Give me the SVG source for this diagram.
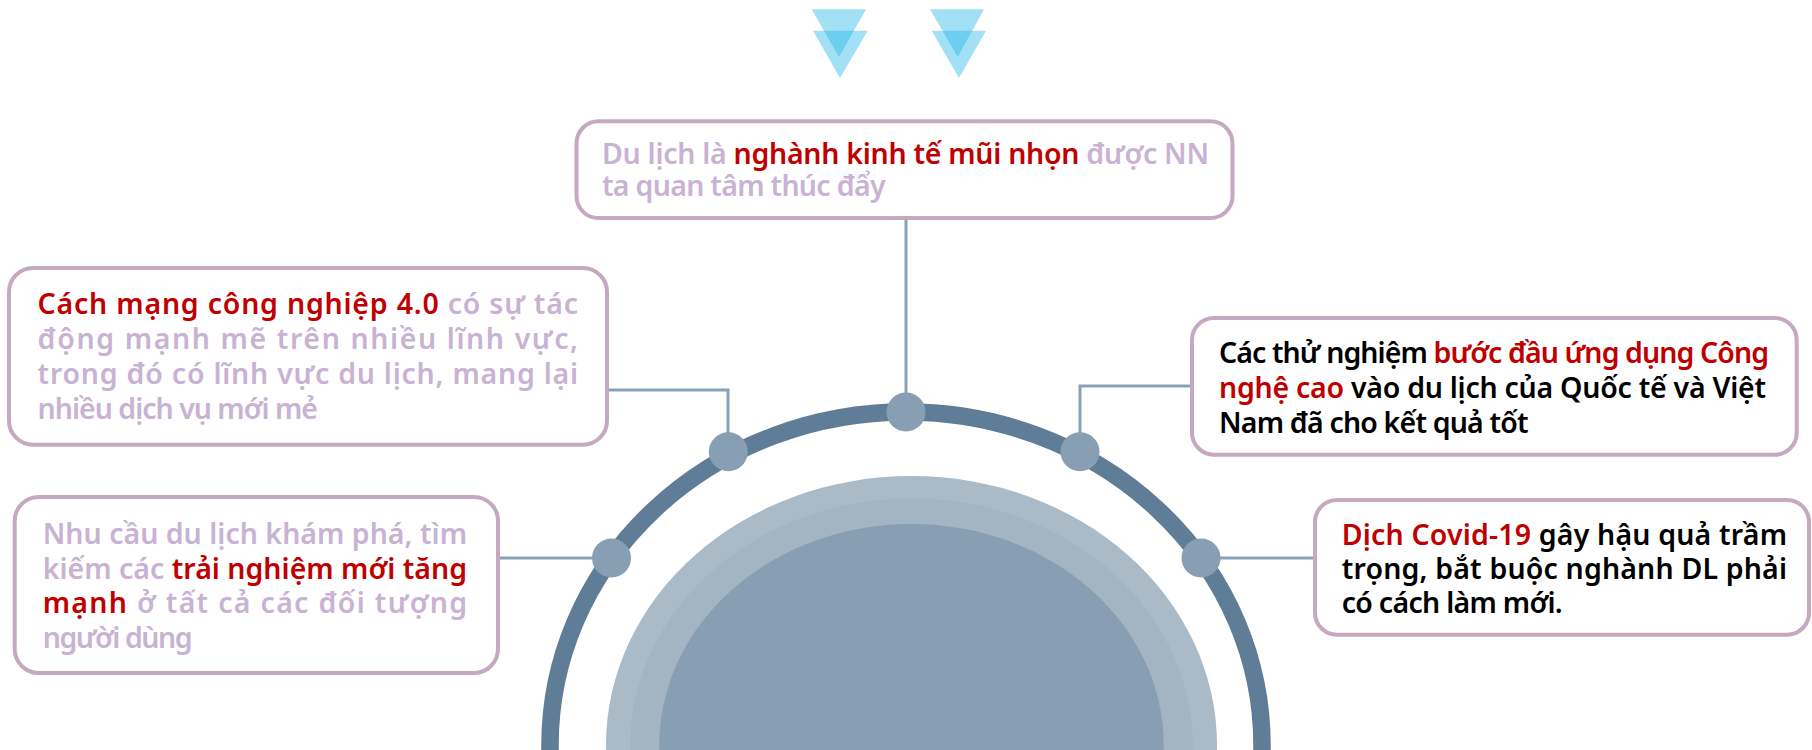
<svg xmlns="http://www.w3.org/2000/svg" width="1812" height="750" viewBox="0 0 1812 750">
<defs>
<style>
.box{fill:#ffffff;stroke:#c4a9c1;stroke-width:4}
.t{font-family:"Noto Sans","Liberation Sans",sans-serif;font-size:28.5px;font-weight:600}
.g{fill:#c8b3d3}
.r{fill:#c00000}
.k{fill:#000000}
.con{fill:none;stroke:#8aa2b6;stroke-width:3}
.node{fill:#889fb3}
.tri{fill:#2ebae9;fill-opacity:0.45}
</style>
</defs>
<rect width="1812" height="750" fill="#ffffff"/>

<g id="arrows">
<polygon class="tri" points="811.7,9.3 866,9.3 839,57"/>
<polygon class="tri" points="813,30.7 867.7,30.7 840,78"/>
<polygon class="tri" points="930,9.3 984,9.3 957.7,57"/>
<polygon class="tri" points="931.7,30.7 986,30.7 959,78"/>
</g>

<g id="hub">
<ellipse cx="911.5" cy="745" rx="305.5" ry="269" fill="#aabbc7"/>
<ellipse cx="911.5" cy="745" rx="281.2" ry="246.7" fill="#a3b4c3"/>
<ellipse cx="911.5" cy="745" rx="252.2" ry="221" fill="#889eb3"/>
<ellipse cx="906" cy="745" rx="356" ry="333" fill="none" stroke="#5f7d96" stroke-width="17.5"/>
</g>

<g id="connectors">
<path class="con" d="M906,220 V412"/>
<path class="con" d="M609,390 H728 V452"/>
<path class="con" d="M1192,386 H1080 V452"/>
<path class="con" d="M498,558 H611"/>
<path class="con" d="M1315,558 H1201"/>
</g>

<g id="node-dots">
<circle class="node" cx="906" cy="412" r="19.5"/>
<circle class="node" cx="728.3" cy="451.7" r="19.5"/>
<circle class="node" cx="1080" cy="451.7" r="19.5"/>
<circle class="node" cx="611.5" cy="558" r="19.5"/>
<circle class="node" cx="1201" cy="558" r="19.5"/>
</g>

<g id="node-top">
<rect class="box" x="576.5" y="121.3" width="656" height="96.7" rx="22"/>
<text class="t" x="602" y="164" textLength="607" lengthAdjust="spacing"><tspan class="g">Du lịch là </tspan><tspan class="r">nghành kinh tế mũi nhọn</tspan><tspan class="g"> được NN</tspan></text>
<text class="t g" x="602" y="196" textLength="283.6" lengthAdjust="spacing">ta quan tâm thúc đẩy</text>
</g>

<g id="node-left-1">
<rect class="box" x="9" y="268" width="598" height="176.7" rx="24"/>
<text class="t" x="37.6" y="314.3" textLength="540.4" lengthAdjust="spacing"><tspan class="r">Cách mạng công nghiệp 4.0</tspan><tspan class="g"> có sự tác</tspan></text>
<text class="t g" x="37.6" y="349.3" textLength="540.4" lengthAdjust="spacing">động mạnh mẽ trên nhiều lĩnh vực,</text>
<text class="t g" x="37.6" y="384.3" textLength="540.4" lengthAdjust="spacing">trong đó có lĩnh vực du lịch, mang lại</text>
<text class="t g" x="37.6" y="419.3" textLength="280.4" lengthAdjust="spacing">nhiều dịch vụ mới mẻ</text>
</g>

<g id="node-left-2">
<rect class="box" x="14.7" y="497" width="483.3" height="176" rx="24"/>
<text class="t g" x="42.7" y="544" textLength="424.3" lengthAdjust="spacing">Nhu cầu du lịch khám phá, tìm</text>
<text class="t" x="42.7" y="578.6" textLength="424.3" lengthAdjust="spacing"><tspan class="g">kiếm các </tspan><tspan class="r">trải nghiệm mới tăng</tspan></text>
<text class="t" x="42.7" y="613.2" textLength="424.3" lengthAdjust="spacing"><tspan class="r">mạnh</tspan><tspan class="g"> ở tất cả các đối tượng</tspan></text>
<text class="t g" x="42.7" y="647.8" textLength="150" lengthAdjust="spacing">người dùng</text>
</g>

<g id="node-right-1">
<rect class="box" x="1192" y="318" width="604.7" height="136.7" rx="22"/>
<text class="t" x="1219" y="363.3" textLength="550" lengthAdjust="spacing"><tspan class="k">Các thử nghiệm </tspan><tspan class="r">bước đầu ứng dụng Công</tspan></text>
<text class="t" x="1219" y="398.3" textLength="547" lengthAdjust="spacing"><tspan class="r">nghệ cao</tspan><tspan class="k"> vào du lịch của Quốc tế và Việt</tspan></text>
<text class="t k" x="1219" y="432.7" textLength="309.6" lengthAdjust="spacing">Nam đã cho kết quả tốt</text>
</g>

<g id="node-right-2">
<rect class="box" x="1315" y="500" width="494" height="134.7" rx="22"/>
<text class="t" x="1341.7" y="545" textLength="445.3" lengthAdjust="spacing"><tspan class="r">Dịch Covid-19</tspan><tspan class="k"> gây hậu quả trầm</tspan></text>
<text class="t k" x="1341.7" y="579.3" textLength="445.3" lengthAdjust="spacing">trọng, bắt buộc nghành DL phải</text>
<text class="t k" x="1341.7" y="612.7" textLength="221" lengthAdjust="spacing">có cách làm mới.</text>
</g>
</svg>
